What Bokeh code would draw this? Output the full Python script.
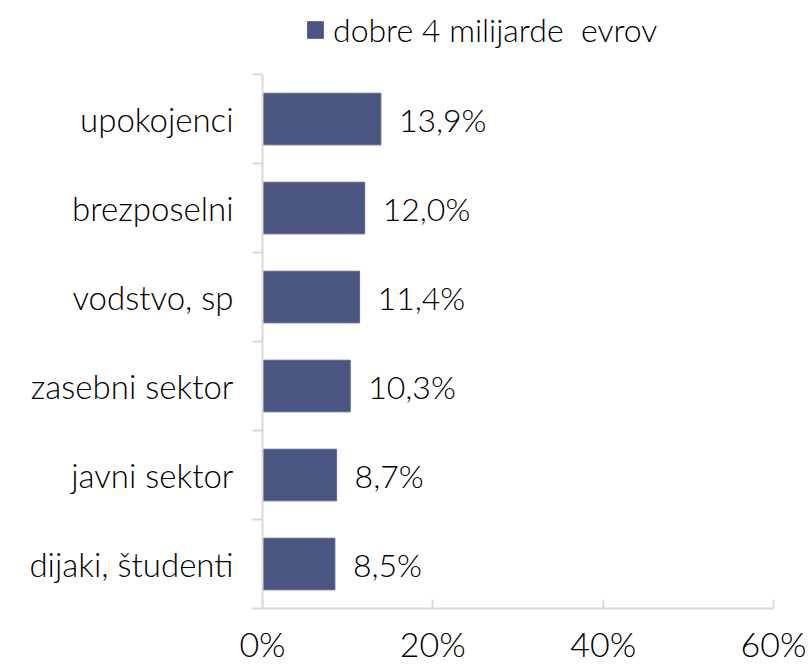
from bokeh.plotting import figure
from bokeh.models import ColumnDataSource, Range1d, FixedTicker, Legend, LegendItem
from bokeh.embed import file_html
from bokeh.resources import INLINE
from bokeh.core.properties import value

categories = ["upokojenci", "brezposelni", "vodstvo, sp", "zasebni sektor", "javni sektor", "dijaki, študenti"]
values = [13.9, 12.0, 11.4, 10.3, 8.7, 8.5]
x_ticks = [0, 20, 40, 60]
series_name = "dobre 4 milijarde  evrov"

n = len(categories)
ypos = [n - i - 0.5 for i in range(n)]
labels = [f"{v:.1f}".replace(".", ",") + "%" for v in values]

src = ColumnDataSource(dict(y=ypos, v=values, lab=labels, cat=categories))

FONT = "Lato Light, Lato"
TXT = "#000000"
TOP_EXTRA = 0.72  # room above the bars for the legend
p = figure(width=810, height=665, output_backend="svg", toolbar_location=None,
           x_range=Range1d(0, 60), y_range=Range1d(0, n + TOP_EXTRA),
           frame_width=511, frame_height=598,
           min_border_left=262, min_border_right=37, min_border_top=10, min_border_bottom=57)
p.outline_line_color = None
p.xgrid.visible = False
p.ygrid.visible = False

r = p.hbar(y="y", right="v", left=0, height=0.58, source=src,
           fill_color="#4a5681", line_color="#5a6690", line_width=1)

p.text(x="v", y="y", text="lab", source=src, x_offset=18, text_align="left",
       text_baseline="middle", text_font=value(FONT), text_font_size="32px", text_color=TXT)

# x axis
xa = p.xaxis[0]
xa.ticker = FixedTicker(ticks=x_ticks)
xa.major_label_overrides = {t: f"{t}%" for t in x_ticks}
xa.axis_line_color = "#d9d9d9"
xa.axis_line_width = 2
xa.major_tick_line_color = "#d9d9d9"
xa.major_tick_line_width = 2
xa.major_tick_in = 9
xa.major_tick_out = 0
xa.minor_tick_line_color = None
xa.major_label_standoff = 14
xa.major_label_text_font = FONT
xa.major_label_text_font_size = "34px"
xa.major_label_text_color = TXT

# y axis
ya = p.yaxis[0]
ya.bounds = (0, n)
ya.ticker = FixedTicker(ticks=ypos, minor_ticks=list(range(n + 1)))
ya.major_label_overrides = {y: c for y, c in zip(ypos, categories)}
ya.axis_line_color = "#d9d9d9"
ya.axis_line_width = 2
ya.major_tick_line_color = None
ya.minor_tick_line_color = "#d9d9d9"
ya.minor_tick_line_width = 2
ya.minor_tick_out = 10
ya.minor_tick_in = 0
ya.major_label_standoff = 19
ya.major_label_text_font = FONT
ya.major_label_text_font_size = "33px"
ya.major_label_text_color = TXT

legend = Legend(items=[LegendItem(label=series_name, renderers=[r])],
                location=(43, 559), orientation="horizontal",
                label_text_font=FONT, label_text_font_size="32px", label_text_color=TXT,
                glyph_width=20, glyph_height=21, border_line_color=None,
                background_fill_alpha=0, padding=0, margin=0, label_standoff=8)
p.add_layout(legend, "center")

open("out.html", "w").write(file_html(p, INLINE))
